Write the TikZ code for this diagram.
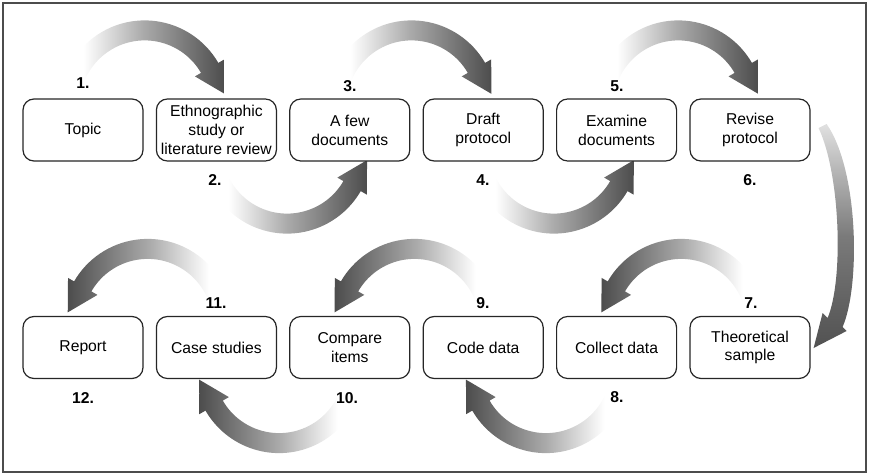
\documentclass[tikz,border=0pt]{standalone}
\usepackage{fontspec}
\setmainfont{Liberation Sans}
\usetikzlibrary{calc, backgrounds}

% fades: the path covers 25bp to 75bp
\pgfdeclarehorizontalshading{fadeR}{100bp}{color(0bp)=(white); color(32bp)=(white); color(50bp)=(black!33); color(75bp)=(black!70); color(100bp)=(black!70)}
\pgfdeclarehorizontalshading{fadeL}{100bp}{color(0bp)=(black!70); color(25bp)=(black!70); color(50bp)=(black!33); color(68bp)=(white); color(100bp)=(white)}
\pgfdeclareverticalshading{fadeD}{100bp}{color(0bp)=(black!68); color(25bp)=(black!68); color(50bp)=(black!52); color(75bp)=(black!12); color(100bp)=(white)}

% curved shaded arrows round a centre coordinate
\newcommand{\cwarrow}[4]{%
  \shade[shading=#4, shift={(#1)}] (#2:85) arc[start angle=#2, end angle=#3, radius=85]
    -- (#3:92) -- ({#3-21.8}:80.8) -- (#3:58) -- (#3:65)
    arc[start angle=#3, end angle=#2, radius=65] -- cycle;}
\newcommand{\ccwarrow}[4]{%
  \shade[shading=#4, shift={(#1)}] (#2:85) arc[start angle=#2, end angle=#3, radius=85]
    -- (#3:92) -- ({#3+21.8}:80.8) -- (#3:58) -- (#3:65)
    arc[start angle=#3, end angle=#2, radius=65] -- cycle;}

\begin{document}
\begin{tikzpicture}[x=1pt, y=1pt,
            box/.style={rectangle, rounded corners=11pt, draw=black!85, line width=1.2pt, fill=white,
                        minimum width=120pt, minimum height=62pt, align=center,
                        font={\fontsize{15.7}{18.8}\selectfont}},
            num/.style={font={\fontsize{15.7}{18.8}\selectfont\bfseries}, inner sep=1pt}
        ]

\useasboundingbox (0,0) rectangle (869,475);
\draw[black!70, line width=1.8pt] (3,3) rectangle (866,472);

% Top row
            \node[box] (topic) at (83,345) {Topic};
            \node[box] (ethno) at (216.4,345) {Ethnographic\\study or\\literature review};
            \node[box] (few) at (349.8,345) {A few\\documents};
            \node[box] (draft) at (483.2,345) {Draft\\protocol};
            \node[box] (examine) at (616.6,345) {Examine\\documents};
            \node[box] (revise) at (750,345) {Revise\\protocol};

% Bottom row
            \node[box] (theo) at (750,127.5) {Theoretical\\sample};
            \node[box] (collect) at (616.6,127.5) {Collect data};
            \node[box] (code) at (483.2,127.5) {Code data};
            \node[box] (compare) at (349.8,127.5) {Compare\\items};
            \node[box] (cases) at (216.4,127.5) {Case studies};
            \node[box] (report) at (83,127.5) {Report};

% Arc centres
            \coordinate (a12) at ($(topic.north)!0.5!(ethno.north)+(-5,-7)$);
            \coordinate (a23) at ($(ethno.south)!0.5!(few.south)+(4,13)$);
            \coordinate (a34) at ($(few.north)!0.5!(draft.north)+(-5,-7)$);
            \coordinate (a45) at ($(draft.south)!0.5!(examine.south)+(4,13)$);
            \coordinate (a56) at ($(examine.north)!0.5!(revise.north)+(-5,-7)$);
            \coordinate (a78) at ($(theo.north)!0.5!(collect.north)+(-2,-8)$);
            \coordinate (a89) at ($(collect.south)!0.5!(code.south)+(-4,11)$);
            \coordinate (a910) at ($(code.north)!0.5!(compare.north)+(-2,-8)$);
            \coordinate (a1011) at ($(compare.south)!0.5!(cases.south)+(-4,11)$);
            \coordinate (a1112) at ($(cases.north)!0.5!(report.north)+(-2,-8)$);

% Arrows (behind the boxes)
            \begin{scope}[on background layer]
            \cwarrow{a12}{172}{30}{fadeR}
            \ccwarrow{a23}{198}{330}{fadeR}
            \cwarrow{a34}{172}{30}{fadeR}
            \ccwarrow{a45}{198}{330}{fadeR}
            \cwarrow{a56}{172}{30}{fadeR}
            \shade[shading=fadeD]
                ($(revise.east)+(16,6)$) .. controls ($(revise.east)+(48,-40)$) and ($(theo.east)+(50,62.5)$) .. ($(theo.east)+(32,20.5)$)
                -- ($(theo.east)+(36,16.5)$) -- ($(theo.east)+(3,-0.5)$) -- ($(theo.east)+(12,34.5)$) -- ($(theo.east)+(17,29.5)$)
                .. controls ($(theo.east)+(33,67.5)$) and ($(revise.east)+(30,-45)$) .. ($(revise.east)+(8,2)$) -- cycle;
            \ccwarrow{a78}{8}{150}{fadeL}
            \cwarrow{a89}{342}{210}{fadeL}
            \ccwarrow{a910}{8}{150}{fadeL}
            \cwarrow{a1011}{342}{210}{fadeL}
            \ccwarrow{a1112}{8}{150}{fadeL}
            \end{scope}

% Step numbers
            \node[num] (n1) at (83,392) {1.};
            \node[num] (n2) at (215,295) {2.};
            \node[num] (n3) at (350,389) {3.};
            \node[num] (n4) at (483,295) {4.};
            \node[num] (n5) at (617,389) {5.};
            \node[num] (n6) at (750,295) {6.};
            \node[num] (n7) at (751,172) {7.};
            \node[num] (n8) at (617,78) {8.};
            \node[num] (n9) at (483,172) {9.};
            \node[num] (n10) at (347,77) {10.};
            \node[num] (n11) at (216,172) {11.};
            \node[num] (n12) at (83,77) {12.};

        \end{tikzpicture}
\end{document}
